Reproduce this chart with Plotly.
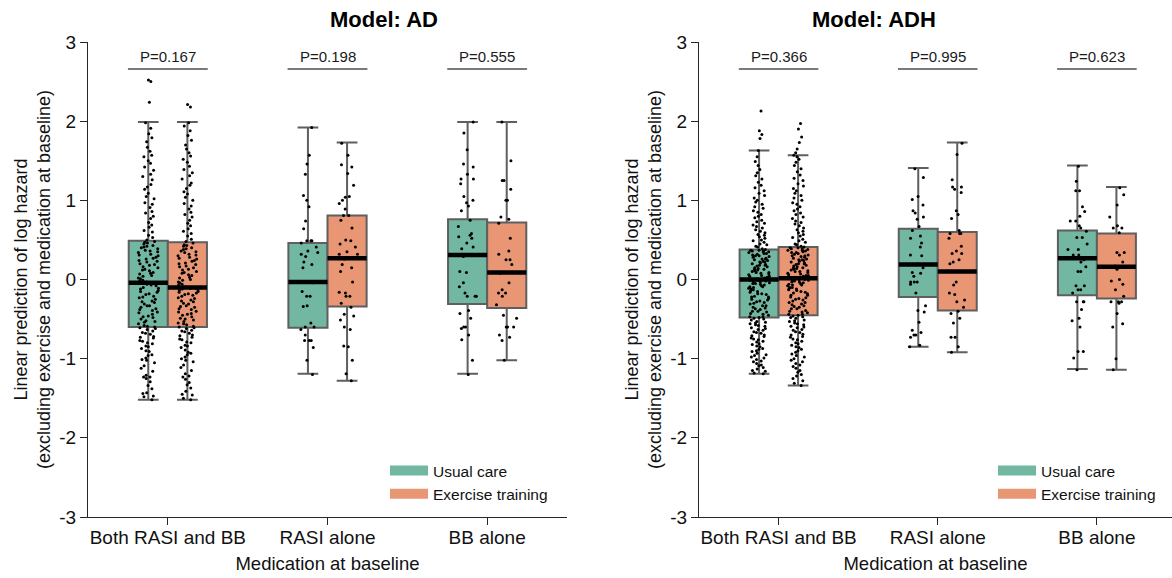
import plotly.graph_objects as go

categories = ["Both RASI and BB", "RASI alone", "BB alone"]
groups = ["Usual care", "Exercise training"]
panel_titles = ["Model: AD", "Model: ADH"]
p_ad = ["P=0.167", "P=0.198", "P=0.555"]
p_adh = ["P=0.366", "P=0.995", "P=0.623"]
y_ticks = [-3, -2, -1, 0, 1, 2, 3]
y_tick_text = ["-3", "-2", "-1", "0", "1", "2", "3"]

# ---- box statistics ----
ad_uc_q1 = [-0.60, -0.61, -0.31]
ad_uc_med = [-0.04, -0.03, 0.31]
ad_uc_q3 = [0.49, 0.46, 0.76]
ad_uc_lo = [-1.52, -1.19, -1.19]
ad_uc_hi = [1.99, 1.92, 1.99]

ad_ex_q1 = [-0.60, -0.34, -0.36]
ad_ex_med = [-0.10, 0.27, 0.09]
ad_ex_q3 = [0.47, 0.81, 0.72]
ad_ex_lo = [-1.52, -1.28, -1.02]
ad_ex_hi = [1.99, 1.73, 1.99]

adh_uc_q1 = [-0.48, -0.22, -0.20]
adh_uc_med = [0.00, 0.19, 0.27]
adh_uc_q3 = [0.38, 0.64, 0.62]
adh_uc_lo = [-1.19, -0.85, -1.13]
adh_uc_hi = [1.63, 1.41, 1.44]

adh_ex_q1 = [-0.45, -0.39, -0.24]
adh_ex_med = [0.015, 0.10, 0.16]
adh_ex_q3 = [0.41, 0.60, 0.58]
adh_ex_lo = [-1.34, -0.92, -1.14]
adh_ex_hi = [1.57, 1.73, 1.17]

# ---- individual predictions ----
ad_both_uc = [
    -1.52, -1.48, -1.47, -1.44, -1.43, -1.38, -1.34, -1.29, -1.25, -1.23, -1.23, -1.21, -1.16, -1.12, -1.09,
    -1.05, -1.02, -1.01, -0.99, -0.96, -0.95, -0.91, -0.90, -0.87, -0.85, -0.84, -0.81, -0.80, -0.78, -0.77,
    -0.74, -0.73, -0.72, -0.69, -0.68, -0.67, -0.65, -0.63, -0.62, -0.61, -0.60, -0.59, -0.58, -0.56, -0.54,
    -0.53, -0.52, -0.50, -0.48, -0.47, -0.46, -0.44, -0.42, -0.41, -0.39, -0.38, -0.37, -0.35, -0.33, -0.33,
    -0.31, -0.29, -0.28, -0.27, -0.25, -0.23, -0.22, -0.21, -0.19, -0.18, -0.16, -0.15, -0.14, -0.12, -0.11,
    -0.10, -0.08, -0.07, -0.06, -0.05, -0.03, -0.02, -0.01, 0.01, 0.02, 0.04, 0.05, 0.07, 0.08, 0.09,
    0.11, 0.12, 0.13, 0.15, 0.16, 0.18, 0.19, 0.20, 0.22, 0.23, 0.24, 0.26, 0.27, 0.28, 0.30,
    0.31, 0.32, 0.34, 0.35, 0.36, 0.37, 0.39, 0.40, 0.41, 0.42, 0.43, 0.45, 0.46, 0.47, 0.48,
    0.50, 0.53, 0.56, 0.60, 0.62, 0.66, 0.69, 0.72, 0.77, 0.80, 0.84, 0.86, 0.91, 0.95, 0.97,
    1.02, 1.05, 1.09, 1.14, 1.17, 1.20, 1.26, 1.30, 1.33, 1.38, 1.42, 1.47, 1.50, 1.55, 1.57,
    1.62, 1.67, 1.74, 1.79, 1.84, 1.91, 1.98, 2.24, 2.50, 2.52,
]
ad_both_ex = [
    -1.52, -1.50, -1.46, -1.45, -1.41, -1.37, -1.33, -1.30, -1.26, -1.23, -1.22, -1.19, -1.15, -1.11, -1.08,
    -1.04, -1.02, -1.00, -0.98, -0.95, -0.93, -0.92, -0.89, -0.86, -0.84, -0.83, -0.80, -0.79, -0.76, -0.75,
    -0.73, -0.71, -0.70, -0.68, -0.66, -0.65, -0.64, -0.62, -0.61, -0.60, -0.59, -0.57, -0.56, -0.55, -0.53,
    -0.51, -0.50, -0.49, -0.47, -0.45, -0.44, -0.43, -0.41, -0.40, -0.38, -0.37, -0.35, -0.34, -0.33, -0.31,
    -0.30, -0.28, -0.27, -0.26, -0.24, -0.23, -0.21, -0.20, -0.19, -0.18, -0.17, -0.16, -0.15, -0.14, -0.13,
    -0.12, -0.11, -0.11, -0.10, -0.10, -0.09, -0.07, -0.06, -0.04, -0.03, -0.01, 0.00, 0.02, 0.03, 0.05,
    0.06, 0.08, 0.09, 0.10, 0.12, 0.13, 0.15, 0.16, 0.17, 0.19, 0.20, 0.21, 0.23, 0.24, 0.26,
    0.27, 0.28, 0.30, 0.31, 0.32, 0.34, 0.35, 0.36, 0.38, 0.39, 0.40, 0.42, 0.43, 0.44, 0.46,
    0.48, 0.51, 0.55, 0.58, 0.61, 0.64, 0.68, 0.71, 0.75, 0.79, 0.82, 0.85, 0.89, 0.93, 0.96,
    1.00, 1.04, 1.08, 1.11, 1.15, 1.19, 1.22, 1.27, 1.31, 1.35, 1.39, 1.43, 1.48, 1.52, 1.56,
    1.60, 1.65, 1.70, 1.76, 1.82, 1.88, 1.94, 1.98, 2.18, 2.21,
]
ad_rasi_uc = [
    1.92, 1.57, 1.46, 1.33, 1.06, 1.00, 0.92, 0.74, 0.64, 0.49, 0.49, 0.49, 0.46, 0.41, 0.36,
    0.34, 0.32, 0.29, 0.22, 0.19, 0.15, -0.04, -0.15, -0.21, -0.21, -0.33, -0.34, -0.55, -0.60, -0.60,
    -0.63, -0.70, -0.77, -0.77, -0.77, -0.86, -1.02, -1.20,
]
ad_rasi_ex = [
    1.72, 1.57, 1.45, 1.42, 1.34, 1.19, 1.05, 1.04, 1.00, 0.96, 0.89, 0.81, 0.81, 0.75, 0.65,
    0.50, 0.49, 0.45, 0.41, 0.35, 0.32, 0.32, 0.26, 0.19, 0.15, 0.10, -0.03, -0.16, -0.17, -0.21,
    -0.21, -0.30, -0.35, -0.44, -0.46, -0.51, -0.60, -0.63, -0.84, -0.85, -1.02, -1.19, -1.28,
]
ad_bb_uc = [
    1.99, 1.85, 1.64, 1.46, 1.42, 1.33, 1.27, 1.27, 1.21, 1.05, 1.00, 0.97, 0.93, 0.87, 0.75,
    0.67, 0.58, 0.56, 0.54, 0.52, 0.46, 0.41, 0.39, 0.32, 0.29, 0.10, 0.09, -0.04, -0.09, -0.17,
    -0.21, -0.21, -0.21, -0.39, -0.43, -0.49, -0.60, -0.60, -0.62, -0.70, -0.76, -1.02, -1.20,
]
ad_bb_ex = [
    1.99, 1.50, 1.25, 1.25, 1.14, 1.00, 1.00, 0.79, 0.76, 0.71, 0.52, 0.36, 0.32, 0.25, 0.25,
    0.19, 0.08, -0.04, -0.13, -0.17, -0.17, -0.21, -0.32, -0.45, -0.49, -0.60, -0.60, -0.60, -0.70, -0.73,
    -0.77, -1.02,
]
adh_both_uc = [
    -1.19, -1.18, -1.16, -1.15, -1.13, -1.11, -1.09, -1.08, -1.06, -1.04, -1.03, -1.01, -0.99, -0.98, -0.96,
    -0.95, -0.93, -0.91, -0.90, -0.88, -0.87, -0.85, -0.84, -0.82, -0.81, -0.79, -0.78, -0.76, -0.75, -0.74,
    -0.72, -0.71, -0.70, -0.68, -0.67, -0.66, -0.64, -0.63, -0.62, -0.61, -0.59, -0.58, -0.57, -0.56, -0.55,
    -0.54, -0.53, -0.51, -0.50, -0.49, -0.48, -0.47, -0.47, -0.45, -0.44, -0.43, -0.41, -0.40, -0.40, -0.38,
    -0.37, -0.36, -0.35, -0.33, -0.33, -0.31, -0.30, -0.29, -0.28, -0.27, -0.26, -0.25, -0.24, -0.22, -0.22,
    -0.21, -0.19, -0.18, -0.18, -0.16, -0.15, -0.14, -0.13, -0.12, -0.11, -0.10, -0.09, -0.09, -0.08, -0.07,
    -0.06, -0.05, -0.05, -0.04, -0.03, -0.03, -0.02, -0.01, -0.01, 0.00, 0.01, 0.01, 0.02, 0.03, 0.04,
    0.04, 0.05, 0.06, 0.07, 0.08, 0.09, 0.09, 0.10, 0.11, 0.12, 0.13, 0.13, 0.14, 0.15, 0.16,
    0.17, 0.18, 0.18, 0.19, 0.20, 0.21, 0.22, 0.22, 0.23, 0.24, 0.25, 0.26, 0.26, 0.27, 0.28,
    0.29, 0.30, 0.30, 0.31, 0.32, 0.33, 0.33, 0.34, 0.35, 0.35, 0.36, 0.36, 0.37, 0.37, 0.38,
    0.39, 0.41, 0.42, 0.44, 0.45, 0.47, 0.49, 0.50, 0.52, 0.54, 0.56, 0.57, 0.59, 0.61, 0.63,
    0.65, 0.67, 0.69, 0.71, 0.73, 0.75, 0.78, 0.80, 0.82, 0.85, 0.87, 0.90, 0.92, 0.95, 0.98,
    1.00, 1.03, 1.06, 1.09, 1.12, 1.16, 1.19, 1.23, 1.27, 1.31, 1.35, 1.39, 1.44, 1.49, 1.55,
    1.63, 1.78, 1.83, 1.88, 2.13,
]
adh_both_ex = [
    -1.34, -1.31, -1.28, -1.25, -1.22, -1.20, -1.17, -1.15, -1.12, -1.10, -1.08, -1.06, -1.04, -1.02, -1.00,
    -0.98, -0.96, -0.94, -0.92, -0.90, -0.88, -0.86, -0.85, -0.83, -0.81, -0.80, -0.78, -0.76, -0.75, -0.73,
    -0.72, -0.70, -0.69, -0.67, -0.66, -0.64, -0.63, -0.61, -0.60, -0.59, -0.57, -0.56, -0.55, -0.53, -0.52,
    -0.51, -0.49, -0.48, -0.47, -0.46, -0.45, -0.44, -0.44, -0.42, -0.41, -0.40, -0.39, -0.37, -0.37, -0.35,
    -0.34, -0.33, -0.32, -0.31, -0.29, -0.29, -0.27, -0.26, -0.25, -0.24, -0.23, -0.22, -0.20, -0.20, -0.18,
    -0.17, -0.16, -0.15, -0.14, -0.13, -0.12, -0.11, -0.10, -0.10, -0.08, -0.07, -0.07, -0.06, -0.05, -0.04,
    -0.03, -0.03, -0.02, -0.01, -0.01, 0.00, 0.00, 0.01, 0.01, 0.02, 0.02, 0.03, 0.04, 0.05, 0.05,
    0.06, 0.07, 0.08, 0.09, 0.10, 0.10, 0.11, 0.12, 0.13, 0.14, 0.15, 0.15, 0.16, 0.17, 0.18,
    0.19, 0.20, 0.20, 0.21, 0.22, 0.23, 0.24, 0.25, 0.25, 0.26, 0.27, 0.28, 0.29, 0.30, 0.30,
    0.31, 0.32, 0.33, 0.34, 0.34, 0.35, 0.36, 0.37, 0.37, 0.38, 0.39, 0.39, 0.40, 0.40, 0.41,
    0.42, 0.44, 0.45, 0.47, 0.49, 0.51, 0.53, 0.55, 0.57, 0.59, 0.61, 0.63, 0.65, 0.68, 0.70,
    0.72, 0.74, 0.77, 0.79, 0.82, 0.84, 0.87, 0.89, 0.92, 0.95, 0.97, 1.00, 1.03, 1.06, 1.09,
    1.12, 1.15, 1.18, 1.21, 1.25, 1.28, 1.32, 1.36, 1.40, 1.44, 1.48, 1.52, 1.55, 1.57, 1.60,
    1.65, 1.73, 1.80, 1.90, 1.97,
]
adh_rasi_uc = [
    1.40, 1.29, 1.05, 1.01, 0.94, 0.87, 0.84, 0.79, 0.76, 0.67, 0.62, 0.55, 0.52, 0.46, 0.41,
    0.31, 0.30, 0.20, 0.15, 0.09, 0.08, 0.04, -0.03, -0.03, -0.03, -0.06, -0.17, -0.33, -0.39, -0.41,
    -0.54, -0.64, -0.67, -0.70, -0.70, -0.73, -0.83, -0.85,
]
adh_rasi_ex = [
    1.72, 1.58, 1.26, 1.17, 1.17, 1.14, 1.10, 0.87, 0.82, 0.77, 0.62, 0.58, 0.58, 0.58, 0.52,
    0.42, 0.36, 0.33, 0.33, 0.25, 0.22, 0.20, -0.03, -0.07, -0.17, -0.19, -0.26, -0.28, -0.35, -0.40,
    -0.43, -0.49, -0.55, -0.73, -0.73, -0.85, -0.92,
]
adh_bb_uc = [
    1.43, 1.24, 1.12, 1.12, 0.92, 0.86, 0.80, 0.74, 0.74, 0.68, 0.65, 0.61, 0.53, 0.53, 0.45,
    0.38, 0.38, 0.31, 0.31, 0.25, 0.22, 0.16, 0.10, 0.10, -0.08, -0.08, -0.13, -0.13, -0.17, -0.28,
    -0.28, -0.28, -0.38, -0.49, -0.52, -0.60, -0.91, -0.91, -0.99, -1.14,
]
adh_bb_ex = [
    1.16, 1.07, 0.94, 0.79, 0.68, 0.65, 0.65, 0.59, 0.34, 0.34, 0.31, 0.22, 0.17, 0.13, 0.00,
    -0.02, -0.06, -0.13, -0.21, -0.28, -0.28, -0.28, -0.30, -0.43, -0.56, -0.60, -1.00, -1.14,
]

# ---- styling ----
FONT = "Liberation Sans, Arial, sans-serif"
FILL_UC = "#72b7a1"
FILL_EX = "#e99675"
EDGE = "#5f5f5f"
AXIS = "#262626"

W, H = 1172, 578
MT, MB = 42, 61
PLOT_H = H - MT - MB
dom1 = [88 / W, 567 / W]
dom2 = [699 / W, 1.0]

fig = go.Figure()

panels = [
    dict(xa="x", ya="y", leg="legend", p=p_ad, title=panel_titles[0], center=327.5 / W,
         uc=(ad_uc_q1, ad_uc_med, ad_uc_q3, ad_uc_lo, ad_uc_hi),
         ex=(ad_ex_q1, ad_ex_med, ad_ex_q3, ad_ex_lo, ad_ex_hi),
         pts_uc=[ad_both_uc, ad_rasi_uc, ad_bb_uc],
         pts_ex=[ad_both_ex, ad_rasi_ex, ad_bb_ex]),
    dict(xa="x2", ya="y2", leg="legend2", p=p_adh, title=panel_titles[1], center=937.5 / W,
         uc=(adh_uc_q1, adh_uc_med, adh_uc_q3, adh_uc_lo, adh_uc_hi),
         ex=(adh_ex_q1, adh_ex_med, adh_ex_q3, adh_ex_lo, adh_ex_hi),
         pts_uc=[adh_both_uc, adh_rasi_uc, adh_bb_uc],
         pts_ex=[adh_both_ex, adh_rasi_ex, adh_bb_ex]),
]

for pnl in panels:
    arms = [("uc", groups[0], FILL_UC, pnl["uc"], pnl["pts_uc"]),
            ("ex", groups[1], FILL_EX, pnl["ex"], pnl["pts_ex"])]
    # boxes with whiskers
    for key, name, fill, st, pts in arms:
        q1, med, q3, lo, hi = st
        fig.add_trace(go.Box(
            x=categories, q1=q1, median=med, q3=q3, lowerfence=lo, upperfence=hi,
            name=name, offsetgroup=key, fillcolor=fill,
            line=dict(color=EDGE, width=2), whiskerwidth=0.53,
            boxpoints=False, showlegend=False, hoverinfo="skip",
            xaxis=pnl["xa"], yaxis=pnl["ya"]))
    # jittered points
    for key, name, fill, st, pts in arms:
        xs, ys = [], []
        for cat, vals in zip(categories, pts):
            xs += [cat] * len(vals)
            ys += vals
        fig.add_trace(go.Box(
            x=xs, y=ys, name=name, offsetgroup=key,
            boxpoints="all", jitter=0.55, pointpos=0,
            fillcolor="rgba(0,0,0,0)", line=dict(width=0, color="rgba(0,0,0,0)"),
            whiskerwidth=0,
            marker=dict(color="black", size=3, line=dict(width=0)),
            showlegend=False, hoverinfo="skip",
            xaxis=pnl["xa"], yaxis=pnl["ya"]))
    # thick black median bars
    for key, name, fill, st, pts in arms:
        q1, med, q3, lo, hi = st
        fig.add_trace(go.Box(
            x=categories, q1=med, median=med, q3=med, lowerfence=med, upperfence=med,
            name=name, offsetgroup=key, fillcolor="rgba(0,0,0,0)",
            line=dict(color="black", width=4.5), whiskerwidth=0,
            boxpoints=False, showlegend=False, hoverinfo="skip",
            xaxis=pnl["xa"], yaxis=pnl["ya"]))
    # legend entries
    for key, name, fill, st, pts in arms:
        fig.add_trace(go.Scatter(
            x=[None], y=[None], mode="lines", name=name,
            line=dict(color=fill, width=12), legend=pnl["leg"],
            xaxis=pnl["xa"], yaxis=pnl["ya"]))
    # p-value brackets
    for i, txt in enumerate(pnl["p"]):
        fig.add_shape(type="line", xref=pnl["xa"], yref=pnl["ya"],
                      x0=i - 0.25, x1=i + 0.25, y0=2.66, y1=2.66,
                      line=dict(color="#7a7a7a", width=2))
        fig.add_annotation(x=categories[i], y=2.82, xref=pnl["xa"], yref=pnl["ya"],
                           text=txt, showarrow=False,
                           font=dict(size=15, color="#1a1a1a", family=FONT))
    # panel title
    fig.add_annotation(x=pnl["center"], y=1 + (MT - 20) / PLOT_H, xref="paper", yref="paper",
                       text="<b>" + pnl["title"] + "</b>", showarrow=False,
                       font=dict(size=22, color="black", family=FONT), yanchor="middle")

xcommon = dict(type="category", categoryorder="array", categoryarray=categories,
               showline=True, linecolor=AXIS, linewidth=1, ticks="outside", ticklen=7,
               tickcolor=AXIS, tickfont=dict(size=19, color="#111", family=FONT),
               ticklabelstandoff=-4,
               showgrid=False, zeroline=False,
               title=dict(text="Medication at baseline", font=dict(size=18.5, color="#111", family=FONT), standoff=10))
ycommon = dict(range=[-3, 3], tickvals=y_ticks, ticktext=y_tick_text,
               showline=True, linecolor=AXIS, linewidth=1,
               ticks="outside", ticklen=7, tickcolor=AXIS,
               tickfont=dict(size=19, color="#111", family=FONT),
               showgrid=False, zeroline=False,
               title=dict(text="Linear prediction of log hazard<br>(excluding exercise and medication at baseline)",
                          font=dict(size=18, color="#111", family=FONT), standoff=3))

legcommon = dict(xanchor="left", yanchor="top", font=dict(size=15.5, color="#111", family=FONT),
                 bgcolor="rgba(0,0,0,0)", itemwidth=38, tracegroupgap=0)

fig.update_layout(
    width=W, height=H,
    margin=dict(l=0, r=0, t=MT, b=MB, autoexpand=False),
    paper_bgcolor="white", plot_bgcolor="white",
    boxmode="group", boxgap=0.51, boxgroupgap=0,
    font=dict(family=FONT),
    xaxis=dict(domain=dom1, range=[-0.5, 2.5], anchor="y", **xcommon),
    yaxis=dict(domain=[0, 1], anchor="x", **ycommon),
    xaxis2=dict(domain=dom2, range=[-0.5, 2.5 - 4.5 / 159.5], anchor="y2", **xcommon),
    yaxis2=dict(domain=[0, 1], anchor="x2", **ycommon),
    legend=dict(x=385 / W, y=(H - MB - 454) / PLOT_H, **legcommon),
    legend2=dict(x=993 / W, y=(H - MB - 454) / PLOT_H, **legcommon),
    showlegend=True,
)

fig.write_html("out.html")
